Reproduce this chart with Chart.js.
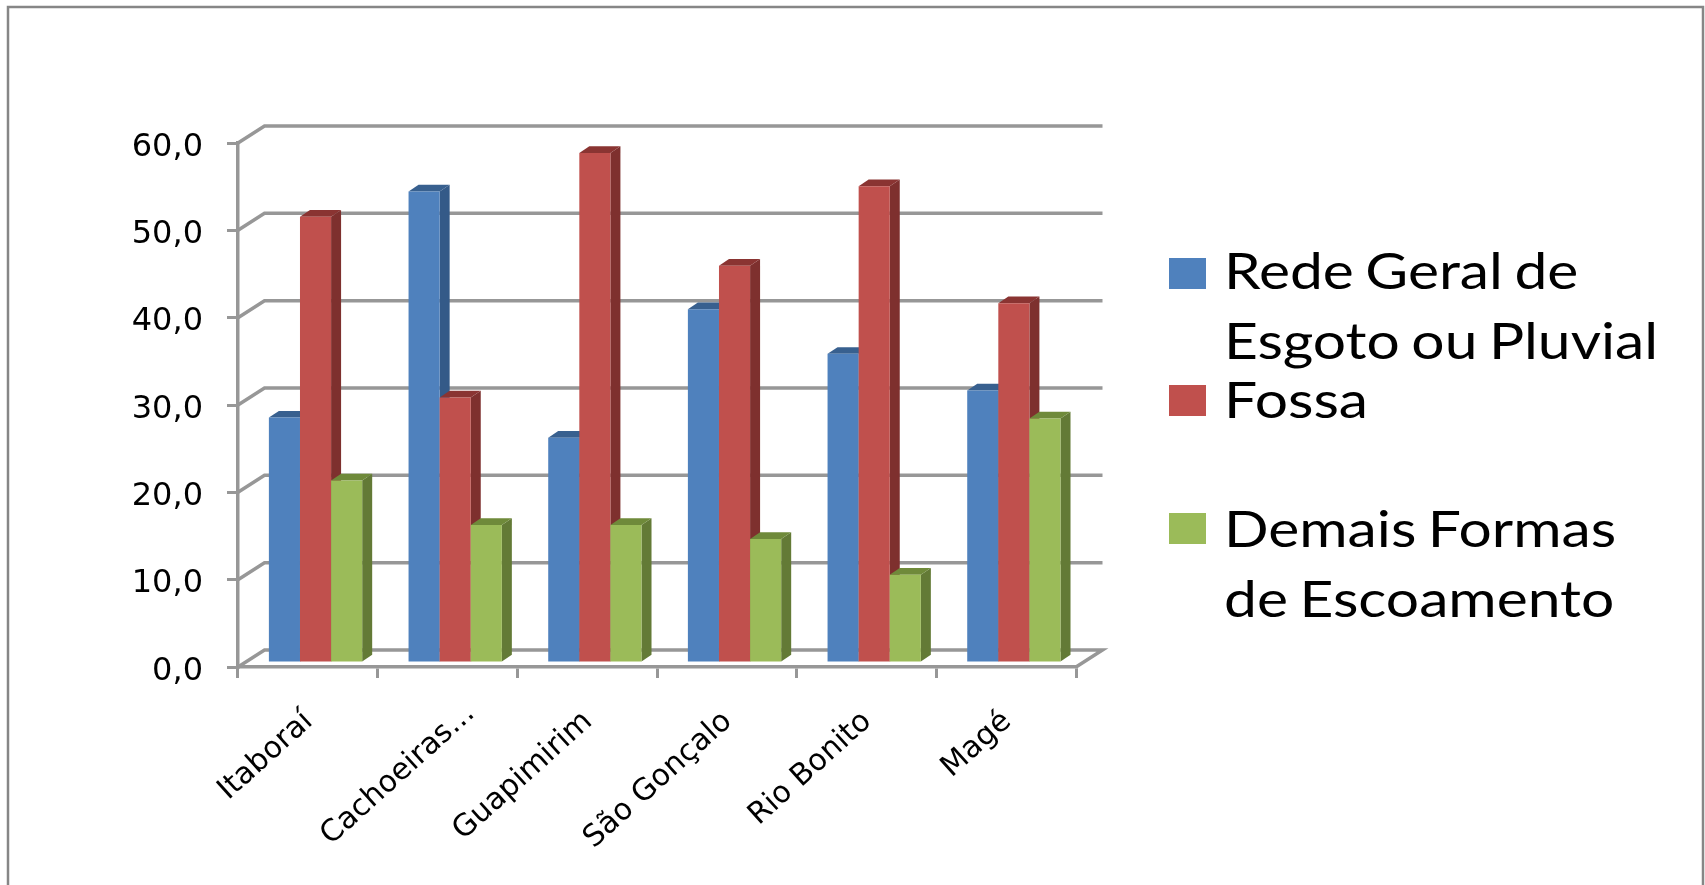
<!DOCTYPE html>
<html>
<head>
<meta charset="utf-8">
<script src="https://cdn.jsdelivr.net/npm/chart.js@4"></script>
<style>
  html, body { margin: 0; padding: 0; background: #fff; }
  #wrap { width: 1705px; height: 885px; }
  /* the reference is a soft, upscaled screenshot */
  canvas { filter: blur(0.6px); }
</style>
</head>
<body>
<div id="wrap"><canvas id="chart" width="1705" height="885"></canvas></div>
<script>
// Data
const categories = ['Itaboraí', 'Cachoeiras...', 'Guapimirim', 'São Gonçalo', 'Rio Bonito', 'Magé'];
const redeGeral = [28.1, 54.0, 25.8, 40.5, 35.4, 31.2];
const fossa = [51.1, 30.4, 58.4, 45.5, 54.6, 41.2];
const demaisFormas = [20.9, 15.8, 15.8, 14.2, 10.1, 28.0];
const legendRede = ['Rede Geral de', 'Esgoto ou Pluvial'];
const legendFossa = ['Fossa'];
const legendDemais = ['Demais Formas', 'de Escoamento'];

// Fake 3D depth of the plot box and of the bars
const wallDepth = { x: 26.5, y: 17 };
const barShift = { x: 7.7, y: 4 };
const barDepth = { x: 10, y: 6.7 };
const axisColor = '#979797';
const sideColors = ['#345a88', '#7e302e', '#637a36'];
const topColors = ['#38608f', '#8a3432', '#6f8a3a'];
const swatchColors = ['#4F81BD', '#C0504D', '#9BBB59'];

// Back wall, floor and the bars with their side and top faces
const wallsPlugin = {
  id: 'walls',
  beforeDraw(chart) {
    // the clipped label sits further up its slant than the others
    const item = chart.scales.x.getLabelItems()[1];
    item.options.translation[0] += 22;
    item.options.translation[1] -= 8;
  },
  beforeDatasetsDraw(chart) {
    const { ctx, scales: { x, y } } = chart;
    ctx.save();
    ctx.strokeStyle = axisColor;
    ctx.lineWidth = 3.5;
    y.ticks.forEach(tick => {
      const py = y.getPixelForValue(tick.value);
      ctx.beginPath();
      ctx.moveTo(x.left, py);
      ctx.lineTo(x.left + wallDepth.x, py - wallDepth.y);
      ctx.lineTo(x.right + wallDepth.x, py - wallDepth.y);
      if (tick.value === 0) ctx.lineTo(x.right, py);
      ctx.stroke();
    });
    ctx.restore();

    // series left to right, each one over the last, so 3D faces overlap properly
    ctx.save();
    ctx.translate(barShift.x, -barShift.y);
    chart.data.datasets.forEach((ds, i) => {
      const meta = chart.getDatasetMeta(i);
      meta.data.forEach(bar => {
        const { x, y, base, width } = bar.getProps(['x', 'y', 'base', 'width']);
        const x0 = x - width / 2;
        const x1 = x + width / 2;
        ctx.fillStyle = sideColors[i];
        ctx.beginPath();
        ctx.moveTo(x1, y);
        ctx.lineTo(x1 + barDepth.x, y - barDepth.y);
        ctx.lineTo(x1 + barDepth.x, base - barDepth.y);
        ctx.lineTo(x1, base);
        ctx.closePath();
        ctx.fill();
        ctx.fillStyle = topColors[i];
        ctx.beginPath();
        ctx.moveTo(x0, y);
        ctx.lineTo(x0 + barDepth.x, y - barDepth.y);
        ctx.lineTo(x1 + barDepth.x, y - barDepth.y);
        ctx.lineTo(x1, y);
        ctx.closePath();
        ctx.fill();
      });
      meta.controller.draw();
    });
    ctx.restore();
    return false; // already drawn in the order we want
  }
};

// Outer frame and the legend with its uneven line spacing
const framePlugin = {
  id: 'frame',
  afterDraw(chart) {
    const { ctx } = chart;
    ctx.save();
    ctx.strokeStyle = '#868686';
    ctx.lineWidth = 2.5;
    ctx.beginPath();
    ctx.moveTo(8, 885);
    ctx.lineTo(8, 7);
    ctx.lineTo(1703, 7);
    ctx.lineTo(1703, 885);
    ctx.stroke();

    const entries = [
      { lines: legendRede, swatchY: 258, baselines: [289, 359] },
      { lines: legendFossa, swatchY: 385, baselines: [418] },
      { lines: legendDemais, swatchY: 513, baselines: [547, 617] }
    ];
    ctx.textBaseline = 'alphabetic';
    ctx.textAlign = 'left';
    ctx.font = '50px Lato';
    ctx.wordSpacing = '-3px';
    entries.forEach((entry, i) => {
      ctx.fillStyle = swatchColors[i];
      ctx.fillRect(1169, entry.swatchY, 37, 31);
      ctx.fillStyle = '#000';
      entry.lines.forEach((line, j) => {
        // original text is stretched sideways
        ctx.save();
        ctx.translate(1224, entry.baselines[j]);
        ctx.scale(1.175, 1);
        ctx.fillText(line, 0, 0);
        ctx.restore();
      });
    });
    ctx.restore();
  }
};

new Chart(document.getElementById('chart'), {
  type: 'bar',
  data: {
    labels: categories,
    datasets: [
      { label: legendRede.join(' '), data: redeGeral, backgroundColor: swatchColors[0] },
      { label: legendFossa.join(' '), data: fossa, backgroundColor: swatchColors[1] },
      { label: legendDemais.join(' '), data: demaisFormas, backgroundColor: swatchColors[2] }
    ]
  },
  options: {
    responsive: false,
    animation: false,
    devicePixelRatio: 1,
    layout: { padding: { left: 0, right: 629, top: 143, bottom: 0 } },
    datasets: { bar: { categoryPercentage: 0.668, barPercentage: 1 } },
    plugins: { legend: { display: false }, tooltip: { enabled: false } },
    scales: {
      x: {
        afterFit(scale) { scale.height = 218; },
        border: { color: axisColor, width: 3.5 },
        grid: { drawOnChartArea: false, color: axisColor, lineWidth: 3, tickLength: 11 },
        ticks: {
          autoSkip: false,
          minRotation: 42,
          maxRotation: 42,
          padding: 26,
          labelOffset: 1,
          color: '#000',
          font: { family: 'DejaVu Sans', size: 30 }
        }
      },
      y: {
        min: 0,
        max: 60,
        afterFit(scale) { scale.width = 238; },
        border: { color: axisColor, width: 3.5 },
        grid: { drawOnChartArea: false, color: axisColor, lineWidth: 3, tickLength: 11 },
        ticks: {
          stepSize: 10,
          padding: 24,
          labelOffset: 4.5,
          color: '#000',
          font: { family: 'DejaVu Sans', size: 32 },
          callback: v => v.toFixed(1).replace('.', ',')
        }
      }
    }
  },
  plugins: [wallsPlugin, framePlugin]
});
</script>
</body>
</html>
